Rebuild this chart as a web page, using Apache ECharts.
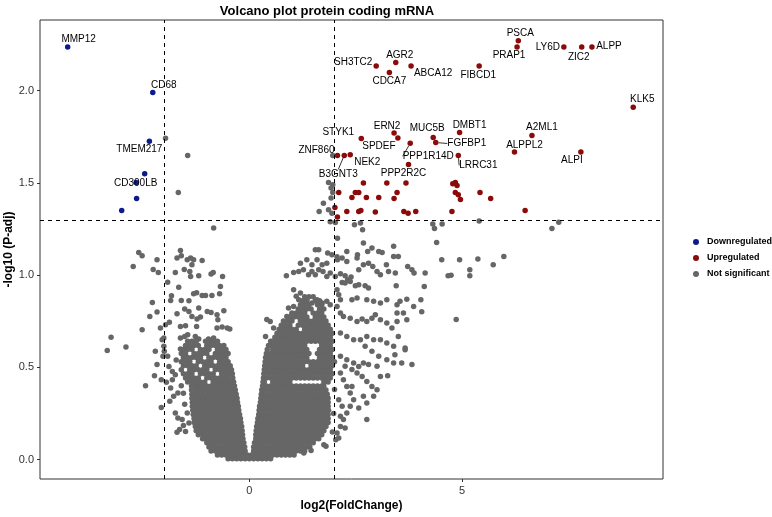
<!DOCTYPE html>
<html>
<head>
<meta charset="utf-8">
<script src="https://cdn.jsdelivr.net/npm/echarts@6/dist/echarts.min.js"></script>
<style>
  html, body { margin: 0; padding: 0; background: #fff; }
  #main { width: 772px; height: 517px; }
</style>
</head>
<body>
<div id="main"></div>
<script>
// x ticks / y ticks shown on the axes
var xTicks = [0, 5];
var yTicks = [0, 0.5, 1, 1.5, 2];

// Downregulated genes ('' = no label)
var downGenes = ['MMP12', 'CD68', 'TMEM217', 'CD300LB', '', '', ''];
var downX = [-4.27, -2.27, -2.35, -2.46, -2.66, -2.65, -3.00];
var downY = [2.237, 1.990, 1.726, 1.549, 1.502, 1.415, 1.350];

// Upregulated genes ('' = no label)
var upGenes = ['SH3TC2', 'AGR2', 'ABCA12', 'CDCA7', 'FIBCD1', 'PSCA', 'PRAP1', 'LY6D', 'ZIC2', 'ALPP',
  'KLK5', 'ERN2', 'SPDEF', 'STYK1', 'MUC5B', 'FGFBP1', 'DMBT1', 'A2ML1', 'ALPPL2', 'ALPI',
  'PPP1R14D', 'LRRC31', 'ZNF860', 'B3GNT3', 'NEK2', 'PPP2R2C',
  '', '', '', '', '', '', '', '', '', '', '', '', '', '', '', '', '', '', '', '', '', '', '', '', '', '', '', '', '', ''];
var upX = [2.98, 3.44, 3.80, 3.29, 5.40, 6.32, 6.29, 7.39, 7.81, 8.05,
  9.02, 3.40, 3.49, 2.63, 4.32, 4.38, 4.94, 6.64, 6.23, 7.79,
  3.78, 4.91, 2.07, 2.23, 2.37, 3.74,
  2.68, 3.23, 3.68, 2.10, 2.49, 2.57, 3.47, 2.41, 2.75, 3.04, 3.40, 2.01, 2.29, 2.57, 2.62, 2.96,
  3.63, 3.73, 3.91, 2.07, 4.76, 4.78, 4.84, 4.88, 4.84, 4.91, 4.96, 5.42, 5.67, 6.48];
var upY = [2.134, 2.152, 2.134, 2.098, 2.134, 2.270, 2.237, 2.237, 2.237, 2.237,
  1.910, 1.770, 1.744, 1.740, 1.746, 1.719, 1.773, 1.757, 1.667, 1.668,
  1.715, 1.649, 1.649, 1.649, 1.652, 1.600,
  1.500, 1.500, 1.500, 1.448, 1.448, 1.448, 1.448, 1.421, 1.421, 1.421, 1.415, 1.367, 1.345, 1.345, 1.350, 1.342,
  1.345, 1.336, 1.345, 1.315, 1.345, 1.495, 1.502, 1.486, 1.448, 1.436, 1.410, 1.448, 1.415, 1.350];

// Not significant: dense core read row by row, [y, x, x, ...]
var nsRows = [
  [0.005, -0.5, -0.4, -0.3, -0.2, -0.1, 0, 0.1, 0.2, 0.3, 0.4, 0.5],
  [0.025, -0.75, -0.65, -0.55, -0.45, -0.35, -0.25, -0.15, -0.05, 0.05, 0.15, 0.25, 0.35, 0.45, 0.55, 0.65, 0.75, 0.85, 0.95, 1.05],
  [0.047, -0.9, -0.8, -0.7, -0.6, -0.5, -0.4, -0.3, -0.2, -0.1, 0.1, 0.2, 0.3, 0.4, 0.5, 0.6, 0.7, 0.8, 0.9, 1.0, 1.1, 1.2, 1.3],
  [0.069, -0.95, -0.85, -0.75, -0.65, -0.55, -0.45, -0.35, -0.25, -0.15, -0.11, 0.1, 0.15, 0.25, 0.35, 0.45, 0.55, 0.65, 0.75, 0.85, 0.95, 1.05, 1.15, 1.25, 1.35, 1.42],
  [0.091, -1.0, -0.9, -0.8, -0.7, -0.6, -0.5, -0.4, -0.3, -0.2, -0.13, 0.12, 0.2, 0.3, 0.4, 0.5, 0.6, 0.7, 0.8, 0.9, 1.0, 1.1, 1.2, 1.3, 1.4, 1.5],
  [0.113, -1.1, -1.05, -0.95, -0.85, -0.75, -0.65, -0.55, -0.45, -0.35, -0.25, -0.15, 0.15, 0.25, 0.35, 0.45, 0.55, 0.65, 0.75, 0.85, 0.95, 1.05, 1.15, 1.25, 1.35, 1.45, 1.55, 1.63],
  [0.135, -1.2, -1.1, -1.0, -0.9, -0.8, -0.7, -0.6, -0.5, -0.4, -0.3, -0.2, -0.16, 0.15, 0.2, 0.3, 0.4, 0.5, 0.6, 0.7, 0.8, 0.9, 1.0, 1.1, 1.2, 1.3, 1.4, 1.5, 1.6, 1.7],
  [0.157, -1.25, -1.15, -1.05, -0.95, -0.85, -0.75, -0.65, -0.55, -0.45, -0.35, -0.25, -0.17, 0.16, 0.25, 0.35, 0.45, 0.55, 0.65, 0.75, 0.85, 0.95, 1.05, 1.15, 1.25, 1.35, 1.45, 1.55, 1.65, 1.75],
  [0.179, -1.27, -1.2, -1.1, -1.0, -0.9, -0.8, -0.7, -0.6, -0.5, -0.4, -0.3, -0.2, -0.18, 0.17, 0.2, 0.3, 0.4, 0.5, 0.6, 0.7, 0.8, 0.9, 1.0, 1.1, 1.2, 1.3, 1.4, 1.5, 1.6, 1.7, 1.8],
  [0.201, -1.3, -1.25, -1.15, -1.05, -0.95, -0.85, -0.75, -0.65, -0.55, -0.45, -0.35, -0.25, -0.2, 0.19, 0.25, 0.35, 0.45, 0.55, 0.65, 0.75, 0.85, 0.95, 1.05, 1.15, 1.25, 1.35, 1.45, 1.55, 1.65, 1.75, 1.85],
  [0.223, -1.3, -1.2, -1.1, -1.0, -0.9, -0.8, -0.7, -0.6, -0.5, -0.4, -0.3, -0.21, 0.2, 0.3, 0.4, 0.5, 0.6, 0.7, 0.8, 0.9, 1.0, 1.1, 1.2, 1.3, 1.4, 1.5, 1.6, 1.7, 1.8, 1.85],
  [0.245, -1.32, -1.25, -1.15, -1.05, -0.95, -0.85, -0.75, -0.65, -0.55, -0.45, -0.35, -0.25, -0.23, 0.22, 0.25, 0.35, 0.45, 0.55, 0.65, 0.75, 0.85, 0.95, 1.05, 1.15, 1.25, 1.35, 1.45, 1.55, 1.65, 1.75, 1.85],
  [0.267, -1.33, -1.3, -1.2, -1.1, -1.0, -0.9, -0.8, -0.7, -0.6, -0.5, -0.4, -0.3, -0.25, 0.23, 0.3, 0.4, 0.5, 0.6, 0.7, 0.8, 0.9, 1.0, 1.1, 1.2, 1.3, 1.4, 1.5, 1.6, 1.7, 1.8, 1.86],
  [0.289, -1.34, -1.25, -1.15, -1.05, -0.95, -0.85, -0.75, -0.65, -0.55, -0.45, -0.35, -0.26, 0.24, 0.25, 0.35, 0.45, 0.55, 0.65, 0.75, 0.85, 0.95, 1.05, 1.15, 1.25, 1.35, 1.45, 1.55, 1.65, 1.75, 1.85],
  [0.311, -1.34, -1.3, -1.2, -1.1, -1.0, -0.9, -0.8, -0.7, -0.6, -0.5, -0.4, -0.3, -0.28, 0.26, 0.3, 0.4, 0.5, 0.6, 0.7, 0.8, 0.9, 1.0, 1.1, 1.2, 1.3, 1.4, 1.5, 1.6, 1.7, 1.8, 1.85],
  [0.333, -1.35, -1.25, -1.15, -1.05, -0.95, -0.85, -0.75, -0.65, -0.55, -0.45, -0.35, -0.29, 0.27, 0.35, 0.45, 0.55, 0.65, 0.75, 0.85, 0.95, 1.05, 1.15, 1.25, 1.35, 1.45, 1.55, 1.65, 1.75, 1.85],
  [0.355, -1.35, -1.3, -1.2, -1.1, -1.0, -0.9, -0.8, -0.7, -0.6, -0.5, -0.4, -0.31, 0.28, 0.3, 0.4, 0.5, 0.6, 0.7, 0.8, 0.9, 1.0, 1.1, 1.2, 1.3, 1.4, 1.5, 1.6, 1.7, 1.8, 1.83],
  [0.377, -1.36, -1.25, -1.15, -1.05, -0.95, -0.85, -0.75, -0.65, -0.55, -0.45, -0.35, -0.33, 0.29, 0.35, 0.45, 0.55, 0.65, 0.75, 0.85, 0.95, 1.05, 1.15, 1.25, 1.35, 1.45, 1.55, 1.65, 1.75, 1.8],
  [0.399, -1.36, -1.3, -1.2, -1.1, -1.0, -0.9, -0.8, -0.7, -0.6, -0.5, -0.4, -0.35, 0.31, 0.4, 0.5, 0.6, 0.7, 0.8, 0.9, 1.0, 1.1, 1.2, 1.3, 1.4, 1.5, 1.6, 1.7, 1.75],
  [0.421, -1.45, -1.35, -1.25, -1.15, -1.05, -0.85, -0.75, -0.65, -0.55, -0.45, -0.37, 0.32, 0.35, 0.55, 0.65, 0.75, 0.85, 0.95, 1.75, 1.85],
  [0.443, -1.5, -1.4, -1.3, -1.2, -1.0, -0.9, -0.8, -0.7, -0.6, -0.5, -0.39, 0.33, 0.4, 0.5, 0.6, 0.7, 0.8, 0.9, 1.0, 1.1, 1.2, 1.3, 1.4, 1.5, 1.6, 1.7, 1.8, 1.9],
  [0.465, -1.55, -1.45, -1.35, -1.15, -1.05, -0.95, -0.85, -0.65, -0.55, -0.45, -0.4, 0.34, 0.45, 0.55, 0.65, 0.75, 0.85, 0.95, 1.05, 1.15, 1.25, 1.35, 1.45, 1.55, 1.65, 1.75, 1.85, 1.95],
  [0.487, -1.6, -1.4, -1.3, -1.2, -1.1, -1.0, -0.8, -0.7, -0.6, -0.5, -0.42, 0.35, 0.4, 0.5, 0.6, 0.7, 0.8, 0.9, 1.0, 1.1, 1.2, 1.3, 1.4, 1.5, 1.6, 1.7, 1.8, 1.9],
  [0.509, -1.55, -1.45, -1.35, -1.25, -1.05, -0.95, -0.85, -0.75, -0.65, -0.55, -0.45, 0.36, 0.45, 0.55, 0.65, 0.75, 0.85, 0.95, 1.05, 1.15, 1.25, 1.45, 1.55, 1.65, 1.75, 1.85, 1.95],
  [0.531, -1.6, -1.5, -1.4, -1.2, -1.1, -1.0, -0.9, -0.7, -0.6, -0.5, 0.37, 0.4, 0.5, 0.6, 0.7, 0.8, 0.9, 1.0, 1.1, 1.2, 1.3, 1.4, 1.5, 1.6, 1.7, 1.8, 1.9, 2.0],
  [0.553, -1.55, -1.45, -1.35, -1.25, -1.15, -0.95, -0.85, -0.75, -0.65, -0.55, 0.38, 0.45, 0.55, 0.65, 0.75, 0.85, 0.95, 1.05, 1.15, 1.25, 1.35, 1.65, 1.75, 1.85, 1.95],
  [0.575, -1.6, -1.5, -1.3, -1.2, -1.1, -1.0, -0.8, -0.7, -0.6, -0.5, 0.4, 0.5, 0.6, 0.7, 0.8, 0.9, 1.0, 1.1, 1.2, 1.3, 1.4, 1.6, 1.7, 1.8, 1.9],
  [0.597, -1.55, -1.45, -1.35, -1.15, -1.05, -0.95, -0.75, -0.65, -0.55, 0.42, 0.55, 0.65, 0.75, 0.85, 0.95, 1.05, 1.15, 1.25, 1.35, 1.65, 1.75, 1.85, 1.95],
  [0.619, -1.5, -1.4, -1.3, -1.2, -1.0, -0.9, -0.8, -0.7, -0.6, 0.45, 0.5, 0.6, 0.7, 0.8, 0.9, 1.0, 1.1, 1.2, 1.3, 1.7, 1.8, 1.9],
  [0.641, -1.45, -1.35, -1.25, -0.95, -0.85, -0.75, 0.5, 0.55, 0.65, 0.75, 0.85, 0.95, 1.05, 1.15, 1.25, 1.35, 1.45, 1.55, 1.65, 1.75, 1.85, 1.95],
  [0.663, 0.6, 0.7, 0.8, 0.9, 1.0, 1.1, 1.2, 1.3, 1.4, 1.5, 1.6, 1.7, 1.8, 1.9],
  [0.685, 0.65, 0.75, 0.85, 0.95, 1.05, 1.15, 1.25, 1.35, 1.45, 1.55, 1.65, 1.75, 1.85, 1.95],
  [0.707, 0.7, 0.8, 0.9, 1.0, 1.1, 1.3, 1.4, 1.5, 1.6, 1.7, 1.8, 1.9],
  [0.729, 0.75, 0.85, 0.95, 1.15, 1.25, 1.35, 1.45, 1.55, 1.65, 1.75, 1.85],
  [0.751, 0.8, 0.9, 1.0, 1.2, 1.3, 1.4, 1.5, 1.6, 1.7, 1.8],
  [0.773, 0.95, 1.05, 1.15, 1.25, 1.35, 1.55, 1.65, 1.75],
  [0.795, 1.0, 1.1, 1.2, 1.3, 1.5, 1.6, 1.7],
  [0.817, 1.15, 1.25, 1.35, 1.45, 1.65, 1.75],
  [0.839, 1.2, 1.3, 1.4, 1.6, 1.7],
  [0.861, 1.25, 1.35, 1.55, 1.65],
  [0.883, 1.3, 1.4, 1.5]
];

// Not significant: scattered points [x, y]
var nsPoints = [
  [-1.97, 1.742], [-1.45, 1.649], [-1.67, 1.448], [-0.84, 1.255],
  [1.96, 1.649], [1.86, 1.502], [1.96, 1.49], [1.92, 1.472], [1.96, 1.448], [1.92, 1.418], [1.74, 1.39],
  [1.64, 1.345], [1.86, 1.354], [1.94, 1.336], [1.90, 1.29], [2.02, 1.285],
  [2.47, 1.273], [2.61, 1.282], [2.66, 1.246], [2.07, 1.2], [2.68, 1.174], [2.78, 1.128], [2.88, 1.147],
  [3.39, 1.156], [3.04, 1.128], [3.12, 1.123], [3.39, 1.101], [3.5, 1.101], [4.31, 1.277], [4.35, 1.253],
  [4.53, 1.277], [5.40, 1.293], [4.40, 1.177], [4.52, 1.083], [4.94, 1.083], [5.37, 1.087], [5.98, 1.101],
  [5.73, 1.056], [4.13, 1.011], [4.67, 0.997], [4.74, 1.0], [5.18, 1.029], [5.18, 0.997], [4.11, 0.939],
  [4.03, 0.867], [4.05, 0.802], [4.86, 0.76], [7.11, 1.253], [7.27, 1.287],
  [1.55, 1.138], [1.63, 1.138], [1.84, 1.12], [1.94, 1.11], [2.06, 1.10], [2.07, 1.083], [2.29, 1.128],
  [2.18, 1.093], [2.29, 1.074], [2.53, 1.093], [2.54, 1.11], [1.20, 1.065], [1.35, 1.083], [1.47, 1.056],
  [1.59, 1.083], [1.71, 1.056], [1.82, 1.065], [0.87, 0.997], [1.04, 1.015], [1.16, 1.02], [1.27, 1.029],
  [1.39, 1.002], [1.47, 1.02], [1.55, 1.002], [1.63, 1.029], [1.73, 1.02], [1.82, 0.993], [1.90, 1.011],
  [2.02, 0.993], [2.14, 1.008], [2.25, 0.997], [2.31, 0.975], [2.39, 0.99], [2.57, 1.029], [2.68, 1.056],
  [2.80, 1.065], [2.90, 1.047], [3.0, 1.02], [3.08, 1.002], [3.22, 1.056], [3.27, 1.02], [3.43, 1.011],
  [3.45, 0.943], [3.72, 1.047], [3.82, 1.029], [3.87, 1.011],
  [2.18, 0.96], [2.25, 0.957], [2.37, 0.966], [2.49, 0.943], [2.57, 0.948], [2.72, 0.943], [2.80, 0.93],
  [1.04, 0.921], [1.10, 0.885], [1.20, 0.903], [1.16, 0.867], [1.35, 0.867], [1.47, 0.849], [1.59, 0.867],
  [1.71, 0.849], [1.82, 0.858], [1.90, 0.84], [2.06, 0.921], [2.10, 0.894], [2.14, 0.867], [2.06, 0.83],
  [2.41, 0.867], [2.53, 0.876], [2.76, 0.867], [2.92, 0.858], [3.08, 0.849], [3.23, 0.867], [3.47, 0.84],
  [3.54, 0.858], [3.70, 0.87], [3.86, 0.83],
  [0.49, 0.749], [0.57, 0.713], [0.73, 0.677], [0.38, 0.668], [0.88, 0.776], [1.0, 0.785], [0.92, 0.822],
  [1.04, 0.83], [1.16, 0.813], [0.41, 0.76],
  [2.14, 0.795], [2.21, 0.776], [2.37, 0.767], [2.53, 0.749], [2.65, 0.762], [2.76, 0.749], [2.88, 0.767],
  [2.96, 0.785], [3.08, 0.758], [3.23, 0.74], [3.35, 0.713], [3.47, 0.749], [3.70, 0.758], [3.62, 0.795],
  [3.47, 0.795],
  [2.14, 0.686], [2.29, 0.668], [2.45, 0.65], [2.61, 0.65], [2.76, 0.668], [2.92, 0.65], [3.08, 0.65],
  [3.23, 0.632], [3.39, 0.614], [2.72, 0.614], [2.88, 0.587], [3.04, 0.56], [3.23, 0.542], [3.39, 0.524],
  [3.58, 0.524], [3.82, 0.515], [3.25, 0.455], [3.66, 0.596], [3.42, 0.569], [3.5, 0.668], [3.66, 0.605],
  [2.14, 0.56], [2.29, 0.542], [2.45, 0.524], [2.57, 0.505], [2.53, 0.47], [2.65, 0.451], [2.76, 0.424],
  [2.88, 0.397], [2.92, 0.343], [2.76, 0.307], [2.68, 0.343], [2.25, 0.506], [2.41, 0.488], [2.68, 0.524],
  [2.80, 0.515], [3.0, 0.506], [3.08, 0.451], [2.41, 0.397], [3.0, 0.379], [2.57, 0.28],
  [2.14, 0.47], [2.21, 0.433], [2.29, 0.397], [2.37, 0.361], [2.45, 0.325], [2.37, 0.289], [2.29, 0.253],
  [2.21, 0.217], [2.14, 0.18], [2.06, 0.144], [2.76, 0.217], [2.25, 0.172], [2.03, 0.108], [1.80, 0.072],
  [1.28, 0.036], [2.10, 0.325], [2.18, 0.289], [2.14, 0.235], [2.10, 0.117], [1.75, 0.081], [1.45, 0.05],
  [1.95, 0.15], [1.98, 0.25], [2.0, 0.38],
  [-2.6, 1.123], [-2.52, 1.105], [-2.73, 1.047], [-2.17, 1.083], [-2.26, 1.03], [-2.14, 1.015], [-1.62, 1.134],
  [-1.70, 1.093], [-1.60, 1.105], [-1.46, 1.083], [-1.38, 1.093], [-1.31, 1.083], [-1.11, 1.08], [-1.53, 1.03],
  [-1.40, 1.02], [-1.35, 1.056], [-1.74, 1.015], [-1.38, 0.993], [-1.19, 0.997], [-0.9, 1.006], [-0.85, 1.015],
  [-0.63, 0.993], [-1.92, 0.962], [-1.66, 0.935], [-0.68, 0.939], [-1.83, 0.888], [-1.85, 0.863], [-1.6, 0.863],
  [-1.42, 0.861], [-1.31, 0.899], [-1.24, 0.905], [-1.11, 0.89], [-1.03, 0.89], [-0.88, 0.89], [-0.70, 0.899],
  [-2.28, 0.852], [-2.17, 0.8], [-2.34, 0.776], [-2.52, 0.704], [-3.25, 0.663], [-3.34, 0.592], [-2.9, 0.61],
  [-1.70, 0.791], [-1.52, 0.816], [-1.42, 0.803], [-1.35, 0.776], [-1.23, 0.762], [-1.15, 0.773], [-1.19, 0.822],
  [-0.99, 0.803], [-0.9, 0.798], [-0.76, 0.785], [-0.74, 0.758], [-0.60, 0.807],
  [-2.09, 0.713], [-1.97, 0.731], [-1.88, 0.744], [-1.62, 0.722], [-1.50, 0.726], [-1.45, 0.677], [-1.24, 0.722],
  [-1.62, 0.659], [-1.52, 0.668], [-1.27, 0.668], [-1.19, 0.654], [-1.03, 0.641], [-0.96, 0.654], [-0.84, 0.659],
  [-0.76, 0.713], [-0.64, 0.719], [-0.52, 0.713], [-0.46, 0.708],
  [-2.05, 0.65], [-2.01, 0.659], [-2.01, 0.614], [-2.0, 0.587], [-2.03, 0.56], [-1.92, 0.56], [-2.21, 0.587],
  [-2.17, 0.515], [-2.23, 0.455], [-2.07, 0.433], [-2.44, 0.401], [-2.07, 0.283], [-1.95, 0.419], [-1.85, 0.388],
  [-1.87, 0.316], [-1.78, 0.343], [-1.68, 0.361],
  [-1.74, 0.253], [-1.68, 0.226], [-1.58, 0.217], [-1.64, 0.163], [-1.70, 0.148], [-1.50, 0.153], [-1.42, 0.199],
  [-1.46, 0.253], [-1.55, 0.185], [-1.89, 0.505], [-1.81, 0.478], [-1.74, 0.46], [-1.81, 0.433], [-1.6, 0.4],
  [-1.55, 0.36], [-1.52, 0.3], [-1.72, 0.54], [-1.62, 0.6]
];

// label placement (pixel offset of the label centre from its point), kept apart from the data
var labelOffsets = {
  MMP12: [11, -8], CD68: [11, -7], TMEM217: [-10, 8], CD300LB: [-9, 9],
  SH3TC2: [-23, -4], AGR2: [4, -7], ABCA12: [22, 7], CDCA7: [0, 9], FIBCD1: [-1, 9],
  PSCA: [2, -8], PRAP1: [-8, 8], LY6D: [-16, 0], ZIC2: [-3, 10], ALPP: [17, -1], KLK5: [9, -8],
  ERN2: [-7, -7], SPDEF: [-19, 8], STYK1: [-23, -6], MUC5B: [-6, -9], FGFBP1: [31, 1],
  DMBT1: [10, -7], A2ML1: [10, -8], ALPPL2: [10, -7], ALPI: [-9, 8], PPP1R14D: [18, 13],
  LRRC31: [20, 10], ZNF860: [-21, -5], B3GNT3: [-6, 19], NEK2: [17, 7], PPP2R2C: [-5, 9]
};
var withLine = ['FGFBP1', 'PPP1R14D', 'LRRC31', 'B3GNT3'];

var FONT = '"Liberation Sans", Arial, Helvetica, sans-serif';

function buildGenes(names, xs, ys) {
  var out = [];
  for (var i = 0; i < xs.length; i++) {
    var item = { value: [xs[i], ys[i]], name: names[i] };
    if (names[i]) {
      item.label = { show: true, formatter: names[i] };
      item.labelLine = { show: withLine.indexOf(names[i]) >= 0 };
    }
    out.push(item);
  }
  return out;
}

var nsData = [];
for (var r = 0; r < nsRows.length; r++) {
  for (var k = 1; k < nsRows[r].length; k++) {
    nsData.push([nsRows[r][k], nsRows[r][0]]);
  }
}
nsData = nsData.concat(nsPoints);

function geneLayout(p) {
  var o = labelOffsets[p.text];
  if (!o) return {};
  return { dx: o[0], dy: o[1] };
}

var geneLabel = {
  show: false, position: 'inside', fontSize: 10, color: '#000', fontFamily: FONT
};
var geneLine = { show: true, length2: 0, lineStyle: { color: '#000', width: 0.8 } };

var myChart = echarts.init(document.getElementById('main'));
var option = {
  backgroundColor: '#fff',
  animation: false,
  textStyle: { fontFamily: FONT },
  title: {
    text: 'Volcano plot protein coding mRNA',
    left: 322, top: 0, textAlign: 'center',
    textStyle: { fontSize: 13, fontWeight: 'bold', color: '#000', fontFamily: FONT }
  },
  legend: {
    orient: 'vertical', left: 688, top: 231,
    itemWidth: 12, itemHeight: 6, itemGap: 4, icon: 'circle',
    data: ['Downregulated', 'Upregulated', 'Not significant'],
    textStyle: { fontSize: 9, fontWeight: 'bold', color: '#000', lineHeight: 12, fontFamily: FONT }
  },
  grid: {
    left: 40, right: 109, top: 20, bottom: 38,
    outerBoundsMode: 'none', containLabel: false,
    show: true, borderColor: '#333', borderWidth: 1, backgroundColor: '#fff'
  },
  xAxis: {
    type: 'value', min: -4.92, max: 9.72,
    name: 'log2(FoldChange)', nameLocation: 'middle', nameGap: 21, nameMoveOverlap: false,
    nameTextStyle: { fontSize: 12, fontWeight: 'bold', color: '#000', fontFamily: FONT },
    axisLine: { show: false, onZero: false },
    splitLine: { show: false },
    axisTick: { show: true, length: 3, customValues: xTicks, lineStyle: { color: '#333' } },
    axisLabel: { customValues: xTicks, fontSize: 11, color: '#333', margin: 6, fontFamily: FONT }
  },
  yAxis: {
    type: 'value', min: -0.105, max: 2.383,
    name: '-log10 (P-adj)', nameLocation: 'middle', nameGap: 25, nameRotate: 90, nameMoveOverlap: false,
    nameTextStyle: { fontSize: 12, fontWeight: 'bold', color: '#000', fontFamily: FONT },
    axisLine: { show: false, onZero: false },
    splitLine: { show: false },
    axisTick: { show: true, length: 3, customValues: yTicks, lineStyle: { color: '#333' } },
    axisLabel: {
      customValues: yTicks, fontSize: 11, color: '#333', margin: 6, fontFamily: FONT,
      formatter: function (v) { return v.toFixed(1); }
    }
  },
  series: [
    {
      name: 'Not significant', type: 'scatter', symbolSize: 5.5,
      itemStyle: { color: '#666666', opacity: 1 },
      data: nsData,
      markLine: {
        silent: true, symbol: 'none', z: 5,
        label: { show: false },
        lineStyle: { type: [4, 4], color: '#000', width: 1 },
        data: [{ xAxis: -2 }, { xAxis: 2 }, { yAxis: 1.301 }]
      }
    },
    {
      name: 'Downregulated', type: 'scatter', symbolSize: 5.5, z: 3,
      itemStyle: { color: '#0d1b8c', opacity: 1 },
      label: geneLabel, labelLine: geneLine, labelLayout: geneLayout,
      data: buildGenes(downGenes, downX, downY)
    },
    {
      name: 'Upregulated', type: 'scatter', symbolSize: 5.5, z: 3,
      itemStyle: { color: '#8b0a0a', opacity: 1 },
      label: geneLabel, labelLine: geneLine, labelLayout: geneLayout,
      data: buildGenes(upGenes, upX, upY)
    }
  ]
};
myChart.setOption(option);
</script>
</body>
</html>
